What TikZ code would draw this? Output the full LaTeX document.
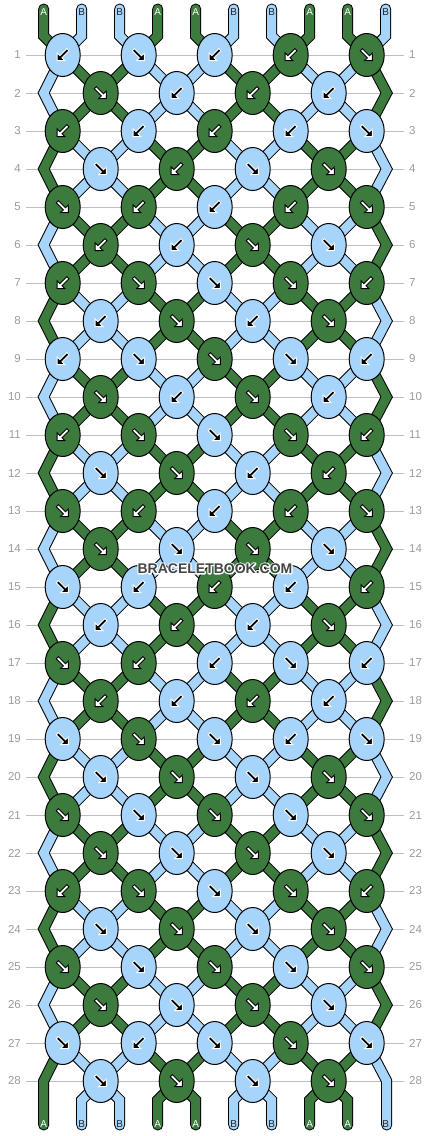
\documentclass[tikz,border=0pt]{standalone}
\usepackage{fontspec}
\setmainfont{Liberation Sans}
\usetikzlibrary{shapes.geometric}
\definecolor{cg}{HTML}{3C7A3E}
\definecolor{cb}{HTML}{A6D4FA}
\definecolor{gridgray}{HTML}{BEBEBE}
\definecolor{numgray}{HTML}{9B9B9B}
\definecolor{wmgray}{HTML}{444444}
\pgfdeclarelayer{grid}
\pgfdeclarelayer{strands}
\pgfsetlayers{grid,strands,main}
\def\Lchar{L}
\def\gchar{g}
\def\decodeknot#1#2\relax{\def\kc{#1}\def\kd{#2}}
\newcommand\krow[3]{%
  \foreach \kt [count=\kn] in {#3} {%
    \expandafter\decodeknot\kt\relax
    \pgfmathsetmacro\xx{62.7+38*(#2+2*(\kn-1))}%
    \pgfmathsetmacro\yy{55+38*(#1-1)}%
    \ifx\kd\Lchar\def\ang{-135}\else\def\ang{-45}\fi
    \ifx\kc\gchar\def\af{white}\def\ad{black}\else\def\af{black}\def\ad{white}\fi
    \node[knot, fill=c\kc] (k#1-\kn) at (\xx,\yy) {};
    \filldraw[arrowshape, fill=\af, draw=\ad, shift={(k#1-\kn.center)}, rotate=\ang]
      (-7.5,-1.5) -- (2.5,-1.5) -- (2.5,-5.4) -- (8,0) -- (2.5,5.4) -- (2.5,1.5) -- (-7.5,1.5) -- cycle;
  }%
}
% white halo drawn with the PDF stroke text-render mode, then the text itself
\newcommand\halo[1]{\leavevmode\rlap{\special{pdf:literal direct 1 Tr 2.4 w 1 j}\textcolor{white}{#1}\special{pdf:literal direct 0 Tr 0.4 w 0 j}}#1}

\begin{document}
\begin{tikzpicture}[x=1pt,y=-1pt,
  knot/.style={ellipse, draw=black, line width=1pt, minimum width=35pt, minimum height=43pt, inner sep=0pt, outer sep=0pt},
  strand/.style={draw=black, line width=1pt, double distance=9pt, line join=miter},
  arrowshape/.style={line width=0.9pt, line join=miter},
  rownum/.style={font=\fontsize{11.5}{12}\selectfont, text=numgray, inner sep=0pt},
  strlabel/.style={font=\fontsize{10}{10}\selectfont, inner sep=0pt},
  wm/.style={font=\fontsize{14}{14}\selectfont\bfseries, text=wmgray, inner sep=0pt}]
\useasboundingbox (0,0) rectangle (430,1136);
\begin{pgfonlayer}{grid}
  \fill[white] (0,0) rectangle (430,1136);
  \foreach \r in {1,...,28} {
    \pgfmathsetmacro\yy{55+38*(\r-1)}
    \draw[gridgray, line width=1pt] (26,\yy) -- (404,\yy);
  }
\end{pgfonlayer}
% row numbers
\foreach \r in {1,...,28} {
  \pgfmathsetmacro\yy{55+38*(\r-1)}
  \node[rownum, anchor=east] (nl\r) at (21,\yy) {\r};
  \node[rownum, anchor=west] (nr\r) at (409,\yy) {\r};
}
% knots
\krow{1}{0}{bL,bR,bL,gL,gR}
\krow{2}{1}{gR,bL,gL,bL}
\krow{3}{0}{gL,bL,gL,bL,bR}
\krow{4}{1}{bR,gL,bR,gR}
\krow{5}{0}{gR,gL,bL,gL,gR}
\krow{6}{1}{gL,bL,gR,bR}
\krow{7}{0}{gL,gR,bR,gR,gL}
\krow{8}{1}{bL,gR,bL,gR}
\krow{9}{0}{bL,bR,gR,bR,bL}
\krow{10}{1}{gR,bL,gR,bL}
\krow{11}{0}{gL,gR,bR,gR,gL}
\krow{12}{1}{bR,gR,bL,gL}
\krow{13}{0}{gR,gL,bL,gL,gR}
\krow{14}{1}{gR,bR,gR,bR}
\krow{15}{0}{bR,bL,gL,bL,gL}
\krow{16}{1}{bL,gL,bL,gR}
\krow{17}{0}{gR,gL,bL,bR,bL}
\krow{18}{1}{gL,bL,gL,bL}
\krow{19}{0}{bR,gR,bR,bL,bR}
\krow{20}{1}{bR,gR,bR,gR}
\krow{21}{0}{gR,bR,gR,bR,gR}
\krow{22}{1}{gR,bR,gR,bR}
\krow{23}{0}{gL,gR,bR,gR,gL}
\krow{24}{1}{bR,gR,bR,gR}
\krow{25}{0}{gR,bR,gR,bR,gR}
\krow{26}{1}{gR,bR,gR,bR}
\krow{27}{0}{bR,bL,bR,gR,bR}
\krow{28}{1}{bR,gR,bR,gR}
% strands
\begin{pgfonlayer}{strands}
  % top stubs
  \foreach \i/\cl in {1/g,2/b,3/b,4/g,5/g,6/b,7/b,8/g,9/g,10/b} {
    \pgfmathsetmacro\xx{43.7+38*(\i-1)}
    \pgfmathtruncatemacro\kq{ceil(\i/2)}
    \coordinate (t\i) at (\xx,9);
    \coordinate (tb\i) at (\xx,36);
    \draw[strand, double=c\cl, line cap=round] (t\i) -- (tb\i) -- (k1-\kq.center);
  }
  % from odd rows
  \foreach \r in {1,3,...,27} {
    \pgfmathtruncatemacro\rn{\r+1}
    \pgfmathtruncatemacro\rnn{\r+2}
    \pgfmathsetmacro\ye{55+38*\r}
    \foreach \kq in {1,...,5} {
      \pgfmathtruncatemacro\pl{mod(\kq+(\r-1)/2,2)}
      \ifnum\pl=1 \def\colL{cb}\def\colR{cg}\else\def\colL{cg}\def\colR{cb}\fi
      \pgfmathtruncatemacro\km{\kq-1}
      \ifnum\kq=1
        \coordinate (eL\r) at (43.7,\ye);
        \ifnum\r<27
          \draw[strand, double=\colL] (k\r-1.center) -- (eL\r) -- (k\rnn-1.center);
        \else
          \coordinate (be1) at (43.7,1125);
          \draw[strand, double=\colL, line cap=round] (k\r-1.center) -- (eL\r) -- (be1);
        \fi
      \else
        \draw[strand, double=\colL] (k\r-\kq.center) -- (k\rn-\km.center);
      \fi
      \ifnum\kq=5
        \coordinate (eR\r) at (386.7,\ye);
        \ifnum\r<27
          \draw[strand, double=\colR] (k\r-5.center) -- (eR\r) -- (k\rnn-5.center);
        \else
          \coordinate (be10) at (386.7,1125);
          \draw[strand, double=\colR, line cap=round] (k\r-5.center) -- (eR\r) -- (be10);
        \fi
      \else
        \draw[strand, double=\colR] (k\r-\kq.center) -- (k\rn-\kq.center);
      \fi
    }
  }
  % from even rows
  \foreach \r in {2,4,...,28} {
    \pgfmathtruncatemacro\rn{\r+1}
    \foreach \kq in {1,...,4} {
      \pgfmathtruncatemacro\pe{mod(\kq+\r/2,2)}
      \ifnum\pe=1 \def\colE{cb}\else\def\colE{cg}\fi
      \pgfmathtruncatemacro\kp{\kq+1}
      \ifnum\r<28
        \draw[strand, double=\colE] (k\r-\kq.center) -- (k\rn-\kq.center);
        \draw[strand, double=\colE] (k\r-\kq.center) -- (k\rn-\kp.center);
      \else
        \pgfmathsetmacro\xa{62.7+38*(2*\kq-1)-19}
        \pgfmathsetmacro\xb{62.7+38*(2*\kq-1)+19}
        \pgfmathtruncatemacro\ia{2*\kq}
        \pgfmathtruncatemacro\ib{2*\kq+1}
        \coordinate (bb\ia) at (\xa,1100);
        \coordinate (be\ia) at (\xa,1125);
        \coordinate (bb\ib) at (\xb,1100);
        \coordinate (be\ib) at (\xb,1125);
        \draw[strand, double=\colE, line cap=round] (k\r-\kq.center) -- (bb\ia) -- (be\ia);
        \draw[strand, double=\colE, line cap=round] (k\r-\kq.center) -- (bb\ib) -- (be\ib);
      \fi
    }
  }
\end{pgfonlayer}
% string labels
\foreach \i/\lab/\lc in {1/A/white,2/B/black!85,3/B/black!85,4/A/white,5/A/white,6/B/black!85,7/B/black!85,8/A/white,9/A/white,10/B/black!85} {
  \pgfmathsetmacro\xx{43.7+38*(\i-1)}
  \node[strlabel, text=\lc] (lt\i) at (\xx,12.5) {\lab};
  \node[strlabel, text=\lc] (lb\i) at (\xx,1124) {\lab};
}
% watermark
\node[wm] (wm) at (215,568.5) {\halo{BRACELETBOOK.COM}};
\end{tikzpicture}
\end{document}
